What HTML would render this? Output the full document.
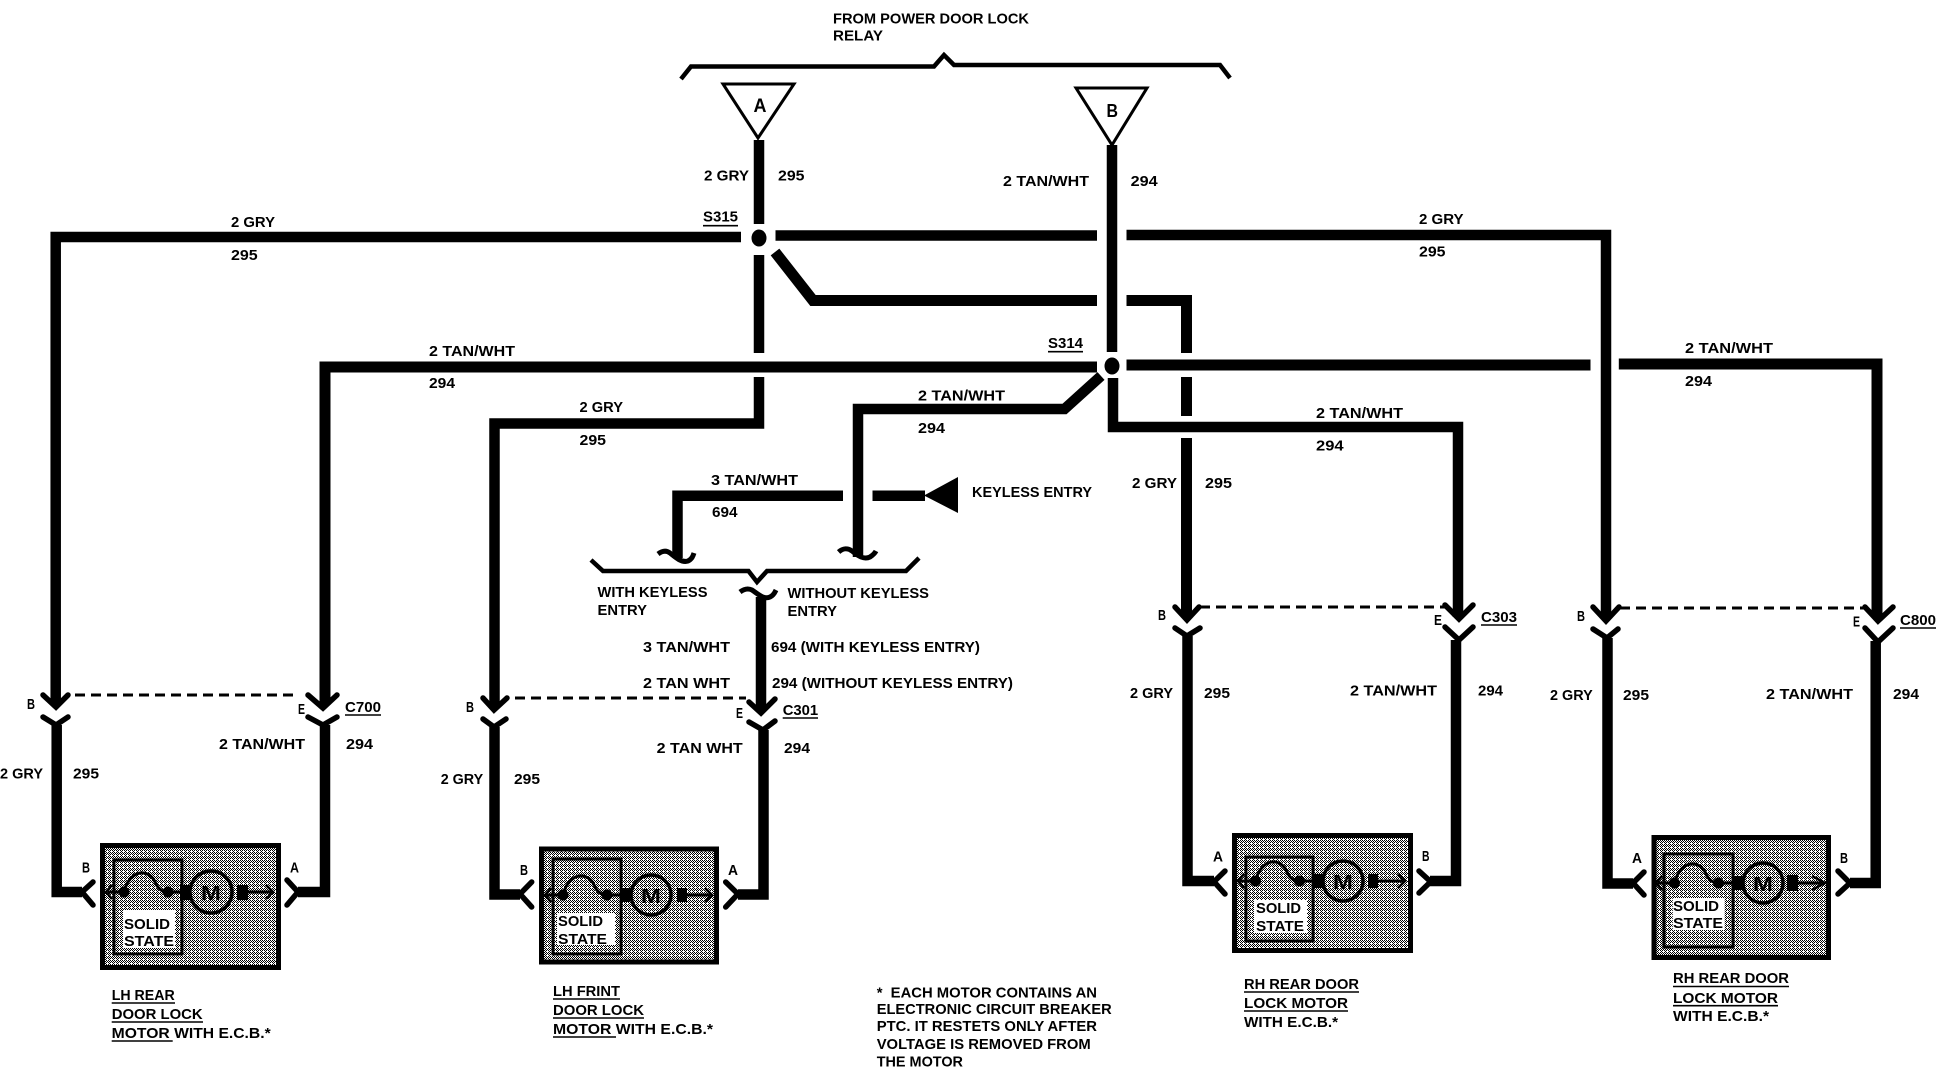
<!DOCTYPE html>
<html><head><meta charset="utf-8"><title>Power door lock wiring diagram</title>
<style>
html,body{margin:0;padding:0;background:#fff;width:1936px;height:1088px;overflow:hidden}
svg{display:block}
text{font-family:"Liberation Sans",sans-serif;font-weight:700;font-size:15px;fill:#000}
.w{fill:none;stroke:#000;stroke-width:10.5;stroke-linejoin:miter;stroke-linecap:butt}
.a{fill:none;stroke:#000;stroke-width:5.5;stroke-linejoin:miter;stroke-linecap:round}
.c{fill:none;stroke:#000;stroke-width:2.5}
.d{fill:none;stroke:#000;stroke-width:3;stroke-dasharray:10 6}
.u{stroke:#000;stroke-width:1.6}
.box{fill:url(#dith);stroke:#000;stroke-width:5}
.inner{fill:none;stroke:#000;stroke-width:3}
.mot{fill:url(#dith);stroke:#000;stroke-width:3.5}
</style></head><body>
<svg width="1936" height="1088" viewBox="0 0 1936 1088" xmlns="http://www.w3.org/2000/svg">
<defs>
<pattern id="dith" width="4" height="4" patternUnits="userSpaceOnUse" shape-rendering="crispEdges">
<rect width="4" height="4" fill="#fff"/>
<rect x="0" y="0" width="1" height="1" fill="#000"/><rect x="2" y="0" width="1" height="1" fill="#000"/>
<rect x="1" y="1" width="1" height="1" fill="#000"/><rect x="3" y="1" width="1" height="1" fill="#000"/>
<rect x="0" y="2" width="1" height="1" fill="#000"/><rect x="2" y="2" width="1" height="1" fill="#000"/>
<rect x="1" y="3" width="1" height="1" fill="#000"/>
</pattern>
<g id="cv"><path d="M0,0 c6,-24 26,-24 32,-8 c3,6 7,8 12,8" fill="none" stroke="#000" stroke-width="3"/><circle cx="0" cy="0" r="5.5" fill="#000"/><circle cx="44" cy="0" r="5.5" fill="#000"/></g>
</defs>
<rect width="1936" height="1088" fill="#fff"/>

<!-- top bracket -->
<polyline points="681,79 691,66.5 934,66.5 944,55 954,65 1220,65 1230,78" fill="none" stroke="#000" stroke-width="4.5"/>
<polygon points="723,84 794,84 758,138" fill="#fff" stroke="#000" stroke-width="3"/>
<polygon points="1076,88 1147,88 1112,145" fill="#fff" stroke="#000" stroke-width="3"/>
<text x="753.5" y="112" textLength="13" lengthAdjust="spacingAndGlyphs" style="font-size:19px">A</text>
<text x="1106.5" y="117" textLength="11.5" lengthAdjust="spacingAndGlyphs" style="font-size:18px">B</text>
<text x="833" y="23.3" textLength="196" lengthAdjust="spacingAndGlyphs">FROM POWER DOOR LOCK</text>
<text x="833" y="40.7" textLength="50" lengthAdjust="spacingAndGlyphs">RELAY</text>

<!-- wire A and junction S315 -->
<path class="w" d="M759,140 V224 M759,255 V353 M759,377 V423.5 H494.5 V708"/>
<ellipse cx="759" cy="238" rx="7.5" ry="8.5"/>
<path class="w" d="M741,237 H55.7 V704"/>
<path class="w" d="M775.5,235.5 H1097 M1126.5,235 H1606 V618"/>
<path class="w" style="stroke-width:11" d="M775,252 L813,300.5 H1097 M1126.5,300.5 H1186.5 V353 M1186.5,377 V416 M1186.5,438 V617"/>

<!-- wire B and junction S314 -->
<path class="w" d="M1112,145 V352 M1113,378 V427 H1458 V617"/>
<ellipse cx="1112" cy="366" rx="7.5" ry="8.5"/>
<path class="w" style="stroke-width:11" d="M1097,367 H325 V705 M1126.5,365 H1590.5 M1618.8,364 H1877 V618"/>
<path class="w" d="M1101,376 L1064.5,409 H858 V557"/>

<!-- keyless branch -->
<path class="w" d="M843,495.7 H677.5 V558 M872.5,495.7 H925"/>
<polygon points="924,495.5 958,477 958,513"/>
<path fill="none" stroke="#000" stroke-width="5" d="M658,554 C662,551 666,550 670,553 C676,558 682,563 688,561 C692,559 693,556 694,553"/>
<path fill="none" stroke="#000" stroke-width="5" d="M838.6,552 C843,548 848,548 852,551 C858,556 864,560 870,557 C873,555 875,553 876,551"/>
<polyline points="591,560 603,571 748.5,571 757,582 767,571 906,571 919,558" fill="none" stroke="#000" stroke-width="4.5"/>
<path fill="none" stroke="#000" stroke-width="5" d="M740,592 C744,589 748,588 752,590 C758,594 764,600 770,597 C774,595 775,592 776,590"/>
<path class="w" d="M761,597 V711"/>

<!-- connectors row -->
<polyline class="a" points="43,695 56,707 68,695"/><polyline class="a" points="43,717 56,725 68,717"/>
<polyline class="a" points="308,695 323,708 337,695"/><polyline class="a" points="308,717 323,725 337,717"/>
<polyline class="a" points="483,698 494,710 507,698"/><polyline class="a" points="483,719 494,727 506,719"/>
<polyline class="a" points="749,702 761,713 775,699"/><polyline class="a" points="749,722 763,730 775,721"/>
<polyline class="a" points="1175,607 1187,620 1199,607"/><polyline class="a" points="1175,628 1187,636 1200,628"/>
<polyline class="a" points="1445,605 1459,619 1473,605"/><polyline class="a" points="1445,627 1459,640 1473,627"/>
<polyline class="a" points="1593,607 1606,621 1619,607"/><polyline class="a" points="1593,629 1607,638 1618,629"/>
<polyline class="a" points="1865,607 1878,621 1893,607"/><polyline class="a" points="1865,628 1878,642 1893,628"/>
<path class="d" d="M75,695 H298"/><path class="d" d="M515,698 H746"/><path class="d" d="M1200,607 H1445"/><path class="d" d="M1620,608 H1865"/>

<!-- lower wires -->
<path class="w" d="M56.7,725 V892 H82"/><path class="w" d="M325,725 V892 H298"/>
<path class="w" d="M494.5,727 V894.5 H520"/><path class="w" d="M763.5,730 V894.5 H738"/>
<path class="w" d="M1187.5,636 V881 H1214"/><path class="w" d="M1456,640 V881 H1430"/>
<path class="w" d="M1607.5,638 V883.5 H1633"/><path class="w" d="M1875.7,641 V883 H1850"/>
<polyline class="a" points="93,882 82,892 93,905"/><polyline class="a" points="287,880 298,892 287,905"/>
<polyline class="a" points="531.7,882 520,894 531.7,907"/><polyline class="a" points="725.7,882 738,894 725.7,907"/>
<polyline class="a" points="1225,871 1214,881.7 1225,894"/><polyline class="a" points="1419,871 1430.7,881.7 1419,893"/>
<polyline class="a" points="1644,872 1633,883 1644,895"/><polyline class="a" points="1838,871 1850,883 1838,894"/>

<!-- motor 1 -->
<rect class="box" x="102.5" y="845.5" width="176" height="122"/>
<rect class="inner" x="114" y="860" width="68" height="94"/>
<rect x="123" y="910" width="52" height="38" fill="#fff"/>
<path d="M108,892 H124 M168,892 H190 M248,892 H273" stroke="#000" stroke-width="3"/>
<polyline class="c" points="112,885 106,892 112,899"/><polyline class="c" points="266,885 273,892 266,899"/>
<use href="#cv" x="124" y="892"/>
<rect x="180" y="885" width="10" height="15"/><rect x="237" y="885" width="11" height="15"/>
<circle class="mot" cx="211" cy="892" r="21"/>
<text x="201" y="900" textLength="20" lengthAdjust="spacingAndGlyphs" style="font-size:20px">M</text>
<text x="124" y="929" textLength="46" lengthAdjust="spacingAndGlyphs">SOLID</text>
<text x="124" y="946" textLength="50" lengthAdjust="spacingAndGlyphs">STATE</text>

<!-- motor 2 -->
<rect class="box" x="541.5" y="849" width="175" height="113"/>
<rect class="inner" x="553" y="859" width="68" height="95"/>
<rect x="557" y="913" width="58" height="32" fill="#fff"/>
<path d="M547,895 H563 M608,895 H630 M687,895 H712" stroke="#000" stroke-width="3"/>
<polyline class="c" points="551,888 545,895 551,902"/><polyline class="c" points="705,888 712,895 705,902"/>
<use href="#cv" x="563" y="895"/>
<rect x="620" y="888" width="10" height="14"/><rect x="677" y="888" width="10" height="14"/>
<circle class="mot" cx="651" cy="895" r="20"/>
<text x="641" y="903" textLength="20" lengthAdjust="spacingAndGlyphs" style="font-size:20px">M</text>
<text x="558" y="926" textLength="45" lengthAdjust="spacingAndGlyphs">SOLID</text>
<text x="558" y="944" textLength="49" lengthAdjust="spacingAndGlyphs">STATE</text>

<!-- motor 3 -->
<rect class="box" x="1234.5" y="835.5" width="176" height="115"/>
<rect class="inner" x="1246" y="857" width="67" height="84"/>
<rect x="1254" y="900" width="53" height="33" fill="#fff"/>
<path d="M1240,881 H1256 M1299,881 H1323 M1378,881 H1405" stroke="#000" stroke-width="3"/>
<polyline class="c" points="1244,874 1238,881 1244,888"/><polyline class="c" points="1398,874 1405,881 1398,888"/>
<use href="#cv" x="1255.5" y="881"/>
<rect x="1314" y="874" width="9" height="14"/><rect x="1368" y="874" width="10" height="14"/>
<circle class="mot" cx="1343" cy="881" r="20"/>
<text x="1333" y="889" textLength="20" lengthAdjust="spacingAndGlyphs" style="font-size:20px">M</text>
<text x="1256" y="913" textLength="45" lengthAdjust="spacingAndGlyphs">SOLID</text>
<text x="1256" y="931" textLength="48" lengthAdjust="spacingAndGlyphs">STATE</text>

<!-- motor 4 -->
<rect class="box" x="1654" y="837.5" width="174.5" height="120"/>
<rect class="inner" x="1664" y="854" width="69" height="93"/>
<rect x="1672.7" y="898" width="52" height="32" fill="#fff"/>
<path d="M1658,883 H1674 M1719,883 H1743 M1798,883 H1825" stroke="#000" stroke-width="3"/>
<polyline class="c" points="1662,876 1656,883 1662,890"/><polyline class="c" points="1812,876 1825,883 1812,890"/>
<use href="#cv" x="1674.5" y="883"/>
<rect x="1733" y="876" width="10" height="14"/><rect x="1787" y="875" width="11" height="16"/>
<circle class="mot" cx="1763" cy="883" r="20"/>
<text x="1753" y="891" textLength="20" lengthAdjust="spacingAndGlyphs" style="font-size:20px">M</text>
<text x="1673" y="911" textLength="46" lengthAdjust="spacingAndGlyphs">SOLID</text>
<text x="1673" y="928" textLength="50" lengthAdjust="spacingAndGlyphs">STATE</text>

<!-- wire labels top -->
<text x="704" y="180.7" textLength="45" lengthAdjust="spacingAndGlyphs">2 GRY</text>
<text x="778" y="180.7" textLength="26.5" lengthAdjust="spacingAndGlyphs">295</text>
<text x="1003" y="186" textLength="86" lengthAdjust="spacingAndGlyphs">2 TAN/WHT</text>
<text x="1130.6" y="186" textLength="27" lengthAdjust="spacingAndGlyphs">294</text>
<text x="703" y="221.7" textLength="35" lengthAdjust="spacingAndGlyphs">S315</text><line class="u" x1="703" x2="738" y1="225.7" y2="225.7"/>
<text x="1048" y="348" textLength="35" lengthAdjust="spacingAndGlyphs">S314</text><line class="u" x1="1048" x2="1083" y1="351.7" y2="351.7"/>
<text x="231" y="227" textLength="44" lengthAdjust="spacingAndGlyphs">2 GRY</text>
<text x="231" y="260" textLength="26.7" lengthAdjust="spacingAndGlyphs">295</text>
<text x="429" y="356" textLength="86" lengthAdjust="spacingAndGlyphs">2 TAN/WHT</text>
<text x="429" y="388" textLength="26" lengthAdjust="spacingAndGlyphs">294</text>
<text x="579.5" y="412" textLength="43.5" lengthAdjust="spacingAndGlyphs">2 GRY</text>
<text x="579.5" y="445" textLength="26.5" lengthAdjust="spacingAndGlyphs">295</text>
<text x="1419" y="224" textLength="44.6" lengthAdjust="spacingAndGlyphs">2 GRY</text>
<text x="1419" y="256.7" textLength="26.5" lengthAdjust="spacingAndGlyphs">295</text>
<text x="1685" y="353" textLength="88" lengthAdjust="spacingAndGlyphs">2 TAN/WHT</text>
<text x="1685" y="386" textLength="27" lengthAdjust="spacingAndGlyphs">294</text>
<text x="1316" y="418" textLength="87" lengthAdjust="spacingAndGlyphs">2 TAN/WHT</text>
<text x="1316" y="450.7" textLength="27.6" lengthAdjust="spacingAndGlyphs">294</text>
<text x="1132" y="488" textLength="45" lengthAdjust="spacingAndGlyphs">2 GRY</text>
<text x="1205" y="488" textLength="27" lengthAdjust="spacingAndGlyphs">295</text>
<text x="918" y="400.7" textLength="87" lengthAdjust="spacingAndGlyphs">2 TAN/WHT</text>
<text x="918" y="433" textLength="27" lengthAdjust="spacingAndGlyphs">294</text>
<text x="711" y="485" textLength="87" lengthAdjust="spacingAndGlyphs">3 TAN/WHT</text>
<text x="712" y="517" textLength="25.5" lengthAdjust="spacingAndGlyphs">694</text>
<text x="972" y="497" textLength="120" lengthAdjust="spacingAndGlyphs">KEYLESS ENTRY</text>
<text x="597.5" y="597" textLength="110" lengthAdjust="spacingAndGlyphs">WITH KEYLESS</text>
<text x="597.5" y="615" textLength="49.5" lengthAdjust="spacingAndGlyphs">ENTRY</text>
<text x="787.5" y="598" textLength="141.5" lengthAdjust="spacingAndGlyphs">WITHOUT KEYLESS</text>
<text x="787.5" y="616" textLength="49.5" lengthAdjust="spacingAndGlyphs">ENTRY</text>
<text x="643" y="652" textLength="87" lengthAdjust="spacingAndGlyphs">3 TAN/WHT</text>
<text x="771" y="652" textLength="209" lengthAdjust="spacingAndGlyphs">694 (WITH KEYLESS ENTRY)</text>
<text x="643" y="688" textLength="87" lengthAdjust="spacingAndGlyphs">2 TAN WHT</text>
<text x="772" y="688" textLength="241" lengthAdjust="spacingAndGlyphs">294 (WITHOUT KEYLESS ENTRY)</text>

<!-- motor 1 labels -->
<text x="27" y="709" textLength="8" lengthAdjust="spacingAndGlyphs">B</text>
<text x="298" y="714" textLength="7" lengthAdjust="spacingAndGlyphs">E</text>
<text x="345" y="712" textLength="36" lengthAdjust="spacingAndGlyphs">C700</text><line class="u" x1="345" x2="381" y1="715" y2="715"/>
<text x="219" y="749" textLength="86" lengthAdjust="spacingAndGlyphs">2 TAN/WHT</text>
<text x="346" y="749" textLength="27" lengthAdjust="spacingAndGlyphs">294</text>
<text x="0" y="778.7" textLength="43" lengthAdjust="spacingAndGlyphs">2 GRY</text>
<text x="73" y="778.7" textLength="26" lengthAdjust="spacingAndGlyphs">295</text>
<text x="82" y="872.7" textLength="8" lengthAdjust="spacingAndGlyphs">B</text>
<text x="290" y="872.7" textLength="9" lengthAdjust="spacingAndGlyphs">A</text>
<text x="111.7" y="1000" textLength="63" lengthAdjust="spacingAndGlyphs">LH REAR</text><line class="u" x1="111.7" x2="175" y1="1003" y2="1003"/>
<text x="111.7" y="1019" textLength="91" lengthAdjust="spacingAndGlyphs">DOOR LOCK</text><line class="u" x1="111.7" x2="203" y1="1022" y2="1022"/>
<text x="111.7" y="1038" textLength="159" lengthAdjust="spacingAndGlyphs">MOTOR WITH E.C.B.*</text><line class="u" x1="111.7" x2="172.7" y1="1041" y2="1041"/>

<!-- motor 2 labels -->
<text x="466" y="712" textLength="8" lengthAdjust="spacingAndGlyphs">B</text>
<text x="736" y="718" textLength="7" lengthAdjust="spacingAndGlyphs">E</text>
<text x="782.7" y="715" textLength="35.5" lengthAdjust="spacingAndGlyphs">C301</text><line class="u" x1="782.7" x2="818" y1="718" y2="718"/>
<text x="656.7" y="753" textLength="86" lengthAdjust="spacingAndGlyphs">2 TAN WHT</text>
<text x="784" y="753" textLength="26" lengthAdjust="spacingAndGlyphs">294</text>
<text x="440.7" y="784" textLength="42.5" lengthAdjust="spacingAndGlyphs">2 GRY</text>
<text x="514" y="784" textLength="26" lengthAdjust="spacingAndGlyphs">295</text>
<text x="520" y="875" textLength="8" lengthAdjust="spacingAndGlyphs">B</text>
<text x="728" y="875" textLength="10" lengthAdjust="spacingAndGlyphs">A</text>
<text x="553" y="996" textLength="67" lengthAdjust="spacingAndGlyphs">LH FRINT</text><line class="u" x1="553" x2="620" y1="999" y2="999"/>
<text x="553" y="1015" textLength="91" lengthAdjust="spacingAndGlyphs">DOOR LOCK</text><line class="u" x1="553" x2="644" y1="1018" y2="1018"/>
<text x="553" y="1034" textLength="160" lengthAdjust="spacingAndGlyphs">MOTOR WITH E.C.B.*</text><line class="u" x1="553" x2="616" y1="1037" y2="1037"/>

<!-- motor 3 labels -->
<text x="1158" y="620" textLength="8" lengthAdjust="spacingAndGlyphs">B</text>
<text x="1434" y="625" textLength="8" lengthAdjust="spacingAndGlyphs">E</text>
<text x="1481" y="622" textLength="36" lengthAdjust="spacingAndGlyphs">C303</text><line class="u" x1="1481" x2="1517" y1="625" y2="625"/>
<text x="1130" y="698" textLength="43" lengthAdjust="spacingAndGlyphs">2 GRY</text>
<text x="1204" y="698" textLength="26" lengthAdjust="spacingAndGlyphs">295</text>
<text x="1350" y="695.7" textLength="87" lengthAdjust="spacingAndGlyphs">2 TAN/WHT</text>
<text x="1478" y="695.7" textLength="25" lengthAdjust="spacingAndGlyphs">294</text>
<text x="1213" y="861.7" textLength="10" lengthAdjust="spacingAndGlyphs">A</text>
<text x="1422" y="861" textLength="7.5" lengthAdjust="spacingAndGlyphs">B</text>
<text x="1244" y="989" textLength="115" lengthAdjust="spacingAndGlyphs">RH REAR DOOR</text><line class="u" x1="1244" x2="1359" y1="992" y2="992"/>
<text x="1244" y="1008" textLength="104" lengthAdjust="spacingAndGlyphs">LOCK MOTOR</text><line class="u" x1="1244" x2="1348" y1="1011" y2="1011"/>
<text x="1244" y="1027" textLength="94" lengthAdjust="spacingAndGlyphs">WITH E.C.B.*</text>

<!-- motor 4 labels -->
<text x="1577" y="621" textLength="8" lengthAdjust="spacingAndGlyphs">B</text>
<text x="1853" y="626.7" textLength="7" lengthAdjust="spacingAndGlyphs">E</text>
<text x="1900" y="625" textLength="36" lengthAdjust="spacingAndGlyphs">C800</text><line class="u" x1="1900" x2="1936" y1="628" y2="628"/>
<text x="1550" y="700" textLength="42.7" lengthAdjust="spacingAndGlyphs">2 GRY</text>
<text x="1623" y="700" textLength="26" lengthAdjust="spacingAndGlyphs">295</text>
<text x="1766" y="699" textLength="87" lengthAdjust="spacingAndGlyphs">2 TAN/WHT</text>
<text x="1893" y="699" textLength="26" lengthAdjust="spacingAndGlyphs">294</text>
<text x="1632" y="863" textLength="10" lengthAdjust="spacingAndGlyphs">A</text>
<text x="1840" y="863" textLength="8" lengthAdjust="spacingAndGlyphs">B</text>
<text x="1673" y="983" textLength="116" lengthAdjust="spacingAndGlyphs">RH REAR DOOR</text><line class="u" x1="1673" x2="1789" y1="986.5" y2="986.5"/>
<text x="1673" y="1003" textLength="105" lengthAdjust="spacingAndGlyphs">LOCK MOTOR</text><line class="u" x1="1673" x2="1778" y1="1005.7" y2="1005.7"/>
<text x="1673" y="1021" textLength="96" lengthAdjust="spacingAndGlyphs">WITH E.C.B.*</text>

<!-- footnote -->
<text x="876.7" y="997.7" textLength="220.3" lengthAdjust="spacingAndGlyphs" xml:space="preserve">*  EACH MOTOR CONTAINS AN</text>
<text x="876.7" y="1014" textLength="235" lengthAdjust="spacingAndGlyphs">ELECTRONIC CIRCUIT BREAKER</text>
<text x="876.7" y="1031" textLength="220.3" lengthAdjust="spacingAndGlyphs">PTC. IT RESTETS ONLY AFTER</text>
<text x="876.7" y="1049" textLength="214" lengthAdjust="spacingAndGlyphs">VOLTAGE IS REMOVED FROM</text>
<text x="876.7" y="1066.7" textLength="86.3" lengthAdjust="spacingAndGlyphs">THE MOTOR</text>
</svg>
</body></html>
